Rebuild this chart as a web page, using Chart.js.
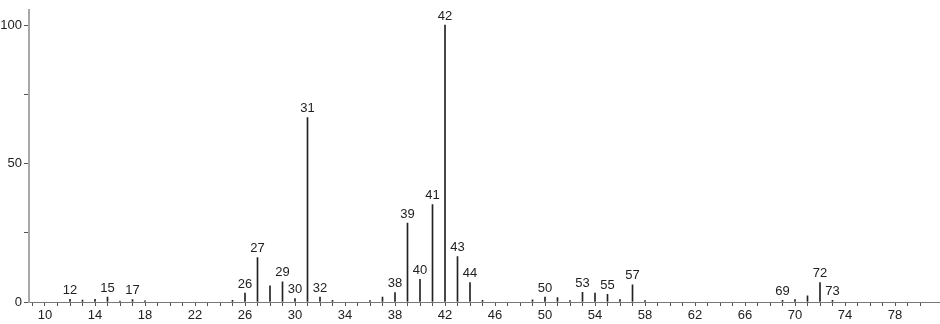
<!DOCTYPE html>
<html>
<head>
<meta charset="utf-8">
<script src="https://cdn.jsdelivr.net/npm/chart.js@4"></script>
<style>
  body { margin: 0; background: #fff; }
  canvas { display: block; }
</style>
</head>
<body>
<canvas id="spectrum" width="940" height="324"></canvas>
<script>
// m/z values and relative intensities
const mz = [12, 13, 14, 15, 16, 17, 18, 25, 26, 27, 28, 29, 30, 31, 32, 33, 36, 37, 38, 39, 40,
            41, 42, 43, 44, 45, 49, 50, 51, 52, 53, 54, 55, 56, 57, 58, 69, 70, 71, 72, 73];
const intensity = [1.0, 0.7, 1.0, 1.8, 0.3, 0.9, 0.4, 0.6, 3.2, 16.0, 5.8, 7.3, 1.2, 66.6, 1.8, 0.6, 0.5, 1.8, 3.4, 28.5, 8.2,
                   35.2, 100, 16.4, 7.0, 0.6, 0.8, 1.8, 1.6, 0.5, 3.5, 3.2, 2.8, 0.9, 6.2, 0.5, 0.6, 0.9, 2.2, 7.0, 0.6];
// peaks that carry a number above them
const labelledPeaks = [12, 15, 17, 26, 27, 29, 30, 31, 32, 38, 39, 40, 41, 42, 43, 44, 50, 53, 55, 57, 69, 72, 73];
const yTicks = [0, 25, 50, 75, 100];
const yTickLabels = ["0", "", "50", "", "100"];

const FONT = "'Liberation Sans', Arial, sans-serif";

const peakLabels = {
    id: "peakLabels",
    afterDatasetsDraw(chart) {
        const ctx = chart.ctx;
        const xs = chart.scales.x;
        const ys = chart.scales.y;
        ctx.save();
        ctx.font = "13px " + FONT;
        ctx.fillStyle = "#222";
        ctx.textAlign = "center";
        ctx.textBaseline = "middle";
        labelledPeaks.forEach(m => {
            const v = intensity[mz.indexOf(m)];
            ctx.fillText(String(m), xs.getPixelForValue(m), ys.getPixelForValue(v) - 9);
        });
        ctx.restore();
    }
};

new Chart(document.getElementById("spectrum"), {
    type: "bar",
    data: {
        datasets: [{
            data: mz.map((m, i) => ({ x: m, y: intensity[i] })),
            backgroundColor: "#222",
            borderWidth: 0,
            barThickness: 1
        }]
    },
    options: {
        responsive: false,
        animation: false,
        devicePixelRatio: 1,
        layout: { padding: { top: 2, right: 0, left: 0, bottom: 0 } },
        plugins: { legend: { display: false }, tooltip: { enabled: false } },
        scales: {
            x: {
                type: "linear",
                offset: false,
                min: 8.72,
                max: 81.6,
                afterBuildTicks(scale) {
                    const t = [];
                    for (let v = 9; v <= 80; v++) t.push({ value: v });
                    scale.ticks = t;
                },
                afterFit(scale) { scale.height = 22; },
                border: { color: "#777", width: 1 },
                grid: { drawOnChartArea: false, offset: false, tickLength: 4, color: "#555" },
                ticks: {
                    autoSkip: false,
                    maxRotation: 0,
                    padding: 2,
                    color: "#222",
                    font: { family: FONT, size: 13 },
                    callback: v => ((v - 10) % 4 === 0 ? String(v) : "")
                }
            },
            y: {
                min: 0,
                max: 105.5,
                afterBuildTicks(scale) {
                    scale.ticks = yTicks.map(v => ({ value: v }));
                },
                afterFit(scale) { scale.width = 29; },
                border: { color: "#a8a8a8", width: 2 },
                grid: { drawOnChartArea: false, tickLength: 5, color: "#555" },
                ticks: {
                    padding: 2,
                    color: "#222",
                    font: { family: FONT, size: 13 },
                    callback: v => yTickLabels[yTicks.indexOf(v)]
                }
            }
        }
    },
    plugins: [peakLabels]
});
</script>
</body>
</html>
